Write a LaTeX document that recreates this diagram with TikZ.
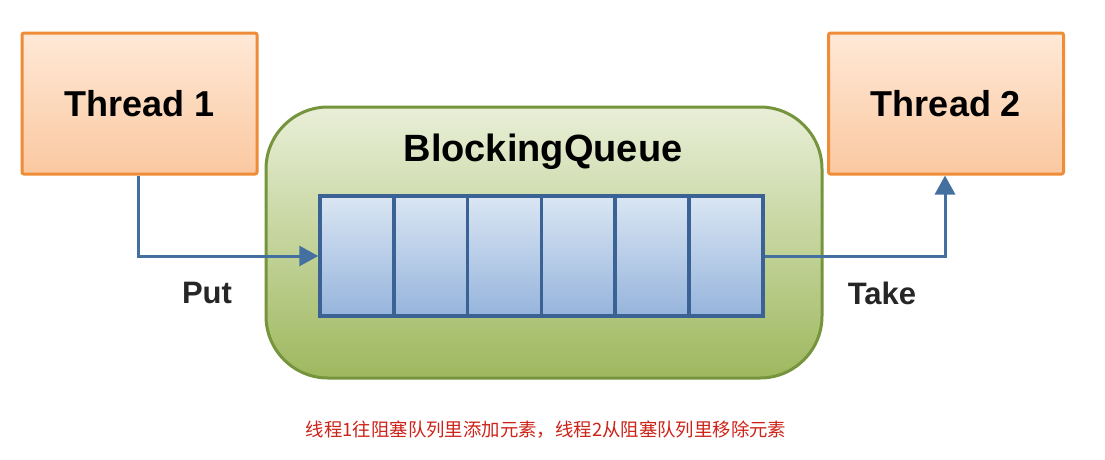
\documentclass[tikz,border=0pt]{standalone}
\usepackage{fontspec}
\setmainfont{Liberation Sans}
\newfontfamily\cjk{Noto Sans CJK SC}
\usetikzlibrary{arrows.meta}
\definecolor{thrdraw}{RGB}{238,140,55}
\definecolor{thrtop}{RGB}{255,233,215}
\definecolor{thrbot}{RGB}{250,200,160}
\definecolor{grdraw}{RGB}{118,148,60}
\definecolor{grtop}{RGB}{233,239,216}
\definecolor{grbot}{RGB}{158,184,94}
\definecolor{qdraw}{RGB}{58,98,148}
\definecolor{qtop}{RGB}{218,230,243}
\definecolor{qbot}{RGB}{150,180,220}
\definecolor{arr}{RGB}{68,112,160}
\definecolor{capred}{RGB}{205,35,25}
\tikzset{
  thread/.style={draw=thrdraw, line width=3pt, top color=thrtop, bottom color=thrbot,
    minimum width=235pt, minimum height=141pt, rounded corners=2pt,
    font=\fontsize{36}{42}\selectfont\bfseries, inner sep=0pt},
  container/.style={draw=grdraw, line width=3pt, top color=grtop, bottom color=grbot,
    minimum width=556pt, minimum height=271pt, rounded corners=62pt, inner sep=0pt},
  cell/.style={draw=qdraw, line width=3.5pt, top color=qtop, bottom color=qbot,
    minimum width=73.8pt, minimum height=120pt, inner sep=0pt},
  conn/.style={draw=arr, line width=3pt, -{Triangle[length=19pt,width=20pt]}},
  lbl/.style={font=\fontsize{31}{36}\selectfont\bfseries, text=black!85},
}
\begin{document}
\begin{tikzpicture}[x=1pt,y=-1pt]
\useasboundingbox (0,0) rectangle (1105,459);
\fill[white] (0,0) rectangle (1105,459);
\node[thread] (t1) at (139.5,103.5) {Thread 1};
\node[thread] (t2) at (946,103.5) {Thread 2};
\node[container] (bq) at (544,242.5) {};
\node[font=\fontsize{38}{44}\selectfont\bfseries] (bqt) at (543,152) {BlockingQueue};
\foreach \i in {0,...,5} {
  \node[cell] (c\i) at ({320+36.9+73.8*\i},256) {};
}
\coordinate (tk) at (945,256);
\draw[conn] (t1.south -| 138,0) |- (c0.west);
\draw[conn] (c5.east) -- (tk) -- (tk |- t2.south);
\node[lbl] (put) at (207,293) {Put};
\node[lbl] (take) at (882,293) {Take};
\node[font=\cjk\fontsize{18.4}{21}\selectfont, text=capred] (cap) at (546,430)
  {线程1往阻塞队列里添加元素，线程2从阻塞队列里移除元素};
\end{tikzpicture}
\end{document}
